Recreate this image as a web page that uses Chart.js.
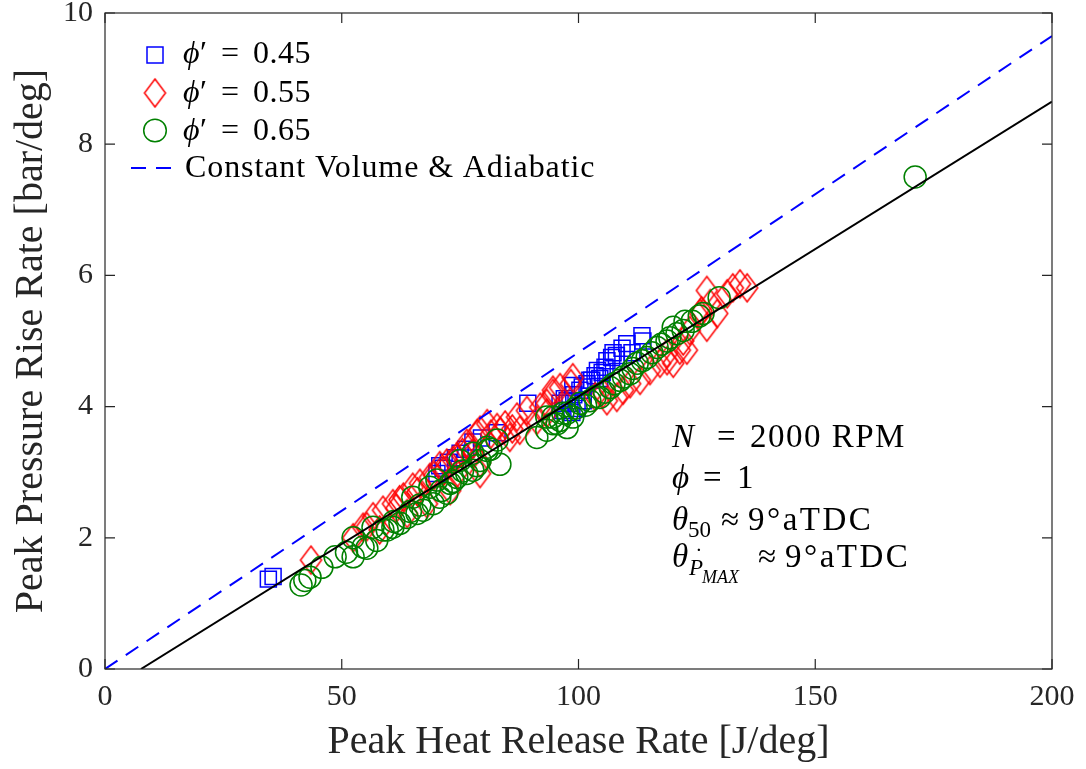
<!DOCTYPE html>
<html>
<head>
<meta charset="utf-8">
<script src="https://cdn.jsdelivr.net/npm/chart.js@4/dist/chart.umd.min.js"></script>
<style>
  html, body { margin: 0; padding: 0; background: #ffffff; }
  #wrap { width: 1086px; height: 769px; }
</style>
</head>
<body>
<div id="wrap"><canvas id="c" width="1086" height="769"></canvas></div>
<script>
// ---------------- data ----------------
const xTicks = [0, 50, 100, 150, 200];
const yTicks = [0, 2, 4, 6, 8, 10];

const phi045X = [34.5, 35.5, 70.1, 70.7, 71.4, 72.5, 74.0, 75.0, 76.2, 77.7, 79.5, 82.8, 89.3, 96.1, 96.7, 97.0, 97.6, 98.2, 98.6, 98.8, 99.0, 99.7, 100.3, 100.8, 101.0, 101.8, 102.4, 102.8, 103.5, 104.0, 104.5, 105.0, 105.6, 106.0, 107.0, 107.3, 108.0, 109.2, 110.2, 111.3, 113.4, 113.6];
const phi045Y = [1.37, 1.41, 2.98, 3.10, 3.06, 3.15, 3.22, 3.29, 3.35, 3.46, 3.52, 3.60, 4.05, 4.05, 3.94, 4.12, 4.09, 4.05, 3.91, 4.32, 4.18, 3.97, 4.25, 4.30, 4.09, 4.35, 4.40, 4.40, 4.47, 4.55, 4.43, 4.52, 4.60, 4.70, 4.75, 4.82, 4.78, 4.89, 4.96, 4.82, 5.08, 5.00];

const phi055X = [43.5, 52.4, 54.5, 55.3, 56.6, 58.0, 58.7, 60.8, 61.5, 62.2, 63.0, 63.8, 65.0, 66.0, 66.5, 68.0, 68.6, 69.5, 70.7, 71.5, 72.2, 72.9, 73.5, 74.3, 74.3, 75.5, 76.4, 77.0, 77.7, 78.6, 79.2, 79.2, 79.2, 80.7, 81.5, 82.8, 83.5, 84.5, 85.5, 86.0, 87.0, 87.6, 89.1, 91.2, 91.9, 93.3, 93.3, 94.6, 94.6, 96.1, 98.4, 98.8, 103.5, 105.2, 106.0, 108.1, 109.4, 110.9, 113.0, 115.1, 117.2, 118.7, 118.7, 120.0, 121.4, 122.1, 122.9, 123.5, 125.7, 126.0, 127.1, 127.1, 127.8, 129.3, 131.4, 132.6, 134.1, 135.6];
const phi055Y = [1.66, 2.00, 2.16, 2.17, 2.32, 2.12, 2.42, 2.52, 2.45, 2.58, 2.62, 2.37, 2.77, 2.70, 2.83, 2.52, 2.92, 2.95, 3.10, 3.02, 3.14, 2.72, 3.18, 3.23, 2.98, 3.30, 3.44, 3.38, 3.29, 3.59, 2.98, 3.14, 3.64, 3.74, 3.58, 3.68, 3.62, 3.72, 3.53, 3.66, 3.84, 3.64, 3.94, 3.79, 3.99, 3.90, 4.05, 4.20, 4.25, 4.29, 4.35, 4.44, 4.15, 4.20, 4.09, 4.14, 4.25, 4.35, 4.40, 4.55, 4.66, 4.70, 4.81, 4.66, 4.86, 5.00, 4.86, 5.16, 5.42, 5.46, 5.21, 5.77, 5.57, 5.42, 5.72, 5.81, 5.87, 5.81];

const phi065X = [41.4, 42.2, 43.3, 45.8, 48.6, 51.0, 52.4, 52.4, 54.5, 55.3, 56.6, 57.4, 58.7, 59.6, 60.8, 61.0, 62.3, 63.8, 64.5, 65.0, 65.9, 66.5, 67.2, 68.6, 69.3, 70.1, 70.7, 71.0, 72.2, 72.9, 73.5, 74.3, 75.0, 75.5, 76.4, 77.7, 77.7, 78.5, 79.2, 80.7, 80.7, 81.5, 82.8, 83.4, 91.2, 93.3, 93.3, 94.6, 94.6, 95.5, 96.1, 96.7, 97.6, 97.6, 98.8, 99.5, 100.3, 101.5, 102.4, 103.5, 104.5, 105.5, 106.7, 107.5, 108.8, 109.5, 110.9, 111.5, 112.4, 113.5, 114.5, 115.5, 116.6, 117.5, 118.7, 119.3, 120.0, 120.8, 122.1, 122.5, 124.0, 125.5, 126.3, 129.7, 171.1];
const phi065Y = [1.28, 1.35, 1.40, 1.55, 1.71, 1.78, 1.71, 2.00, 1.86, 1.84, 2.16, 1.96, 2.12, 2.12, 2.16, 2.25, 2.22, 2.31, 2.40, 2.62, 2.37, 2.50, 2.42, 2.77, 2.52, 2.88, 2.62, 2.72, 2.68, 2.83, 2.86, 2.92, 3.18, 3.02, 2.98, 3.03, 3.29, 3.10, 3.18, 3.33, 3.38, 3.35, 3.49, 3.12, 3.53, 3.64, 3.84, 3.74, 3.84, 3.74, 3.79, 3.90, 3.68, 3.90, 3.84, 3.98, 4.05, 4.02, 4.09, 4.15, 4.14, 4.22, 4.29, 4.35, 4.40, 4.45, 4.50, 4.58, 4.66, 4.70, 4.75, 4.82, 4.90, 4.95, 5.00, 5.05, 5.21, 5.11, 5.16, 5.30, 5.30, 5.38, 5.42, 5.66, 7.50];

// Constant volume & adiabatic reference line, and linear fit line
const idealX = [0, 200];
const idealY = [0, 9.65];
const fitX = [7.6, 200];
const fitY = [0, 8.65];

const legendLabels = ["0.45", "0.55", "0.65", "Constant Volume & Adiabatic"];

// ---------------- helpers ----------------
const FONT = "'Liberation Serif', 'Times New Roman', serif";
const AX = '#262626';
const pts = (xs, ys) => xs.map((x, i) => ({ x: x, y: ys[i] }));

function diamondCanvas(w, h, color, lw) {
  const c = document.createElement('canvas');
  c.width = w + 4; c.height = h + 4;
  const g = c.getContext('2d');
  g.strokeStyle = color; g.lineWidth = lw;
  g.beginPath();
  g.moveTo(c.width / 2, 2);
  g.lineTo(c.width - 2, c.height / 2);
  g.lineTo(c.width / 2, c.height - 2);
  g.lineTo(2, c.height / 2);
  g.closePath();
  g.stroke();
  return c;
}
const diamondImg = diamondCanvas(21, 28, '#ff0000', 1.5);

function spaced(ctx, px) { if ('letterSpacing' in ctx) ctx.letterSpacing = px + 'px'; }

// ---------------- plugin: frame, inward ticks, legend, annotation ----------------
const decor = {
  id: 'decor',
  afterDatasetsDraw(chart) {
    const ctx = chart.ctx, a = chart.chartArea;
    const xs = chart.scales.x, ys = chart.scales.y;
    ctx.save();
    ctx.strokeStyle = AX; ctx.lineWidth = 1.2;
    ctx.strokeRect(a.left, a.top, a.right - a.left, a.bottom - a.top);
    const tl = 10;
    ctx.beginPath();
    xTicks.forEach(v => {
      const px = xs.getPixelForValue(v);
      ctx.moveTo(px, a.bottom); ctx.lineTo(px, a.bottom - tl);
      ctx.moveTo(px, a.top); ctx.lineTo(px, a.top + tl);
    });
    yTicks.forEach(v => {
      const py = ys.getPixelForValue(v);
      ctx.moveTo(a.left, py); ctx.lineTo(a.left + tl, py);
      ctx.moveTo(a.right, py); ctx.lineTo(a.right - tl, py);
    });
    ctx.stroke();
    ctx.restore();
  },
  afterDraw(chart) {
    const ctx = chart.ctx;
    ctx.save();
    ctx.fillStyle = '#000';
    ctx.textBaseline = 'alphabetic';
    ctx.textAlign = 'left';

    // ---- legend ----
    const mx = 155;
    const rows = [63, 101.5, 139.5, 177];
    ctx.strokeStyle = '#0000ff'; ctx.lineWidth = 1.5;
    ctx.strokeRect(mx - 8, 55 - 8, 16, 16);
    ctx.drawImage(diamondImg, mx - diamondImg.width / 2, 93 - diamondImg.height / 2);
    ctx.strokeStyle = '#008000';
    ctx.beginPath(); ctx.arc(mx, 130.5, 11.3, 0, Math.PI * 2); ctx.stroke();
    ctx.strokeStyle = '#0000ff'; ctx.lineWidth = 2; ctx.setLineDash([15, 10]);
    ctx.beginPath(); ctx.moveTo(131, 168); ctx.lineTo(173, 168); ctx.stroke();
    ctx.setLineDash([]);

    for (let i = 0; i < 3; i++) {
      const b = rows[i];
      ctx.font = 'italic 32px ' + FONT;
      ctx.fillText('\u03D5', 183, b);
      ctx.font = '32px ' + FONT;
      ctx.fillText('\u2032', 200, b);
      ctx.fillText('=', 221, b);
      spaced(ctx, 0.5);
      ctx.fillText(legendLabels[i], 253, b);
      spaced(ctx, 0);
    }
    ctx.font = '32px ' + FONT;
    spaced(ctx, 0.9);
    ctx.fillText(legendLabels[3], 185, rows[3]);
    spaced(ctx, 0);

    // ---- annotation ----
    const L = 672;
    const big = '33px ' + FONT, bigI = 'italic 33px ' + FONT;
    // line 1
    ctx.font = bigI; ctx.fillText('N', L, 447);
    ctx.font = big; ctx.fillText('=', 717, 447);
    spaced(ctx, 1.5); ctx.fillText('2000 RPM', 750, 447); spaced(ctx, 0);
    // line 2
    ctx.font = bigI; ctx.fillText('\u03D5', L, 488);
    ctx.font = big; ctx.fillText('=', 703, 488); ctx.fillText('1', 737, 488);
    // line 3
    ctx.font = bigI; ctx.fillText('\u03B8', L, 530);
    ctx.font = '23px ' + FONT; ctx.fillText('50', 688, 537);
    ctx.font = big; ctx.fillText('\u2248', 721, 530);
    spaced(ctx, 2.5); ctx.fillText('9\u00B0aTDC', 748, 530); spaced(ctx, 0);
    // line 4
    ctx.font = bigI; ctx.fillText('\u03B8', L, 567);
    ctx.font = 'italic 23px ' + FONT; ctx.fillText('P', 689, 575);
    ctx.font = '23px ' + FONT; ctx.fillText('\u02D9', 695, 564);
    ctx.font = 'italic 18px ' + FONT; ctx.fillText('MAX', 702, 583);
    ctx.font = big; ctx.fillText('\u2248', 758, 567);
    spaced(ctx, 2.5); ctx.fillText('9\u00B0aTDC', 785, 567); spaced(ctx, 0);

    ctx.restore();
  }
};

// ---------------- chart ----------------
Chart.defaults.font.family = FONT;
Chart.defaults.color = AX;

new Chart(document.getElementById('c'), {
  type: 'scatter',
  data: {
    datasets: [
      { label: 'phi045', data: pts(phi045X, phi045Y), order: 4,
        pointStyle: 'rect', radius: 11.3, borderColor: '#0000ff', backgroundColor: 'rgba(0,0,0,0)', borderWidth: 1.5 },
      { label: 'phi055', data: pts(phi055X, phi055Y), order: 3,
        pointStyle: diamondImg, radius: 12 },
      { label: 'phi065', data: pts(phi065X, phi065Y), order: 2,
        pointStyle: 'circle', radius: 11, borderColor: '#008000', backgroundColor: 'rgba(0,0,0,0)', borderWidth: 1.5 },
      { label: 'ideal', type: 'line', data: pts(idealX, idealY), order: 1,
        borderColor: '#0000ff', borderWidth: 2, borderDash: [15, 10], pointRadius: 0, fill: false, showLine: true },
      { label: 'fit', type: 'line', data: pts(fitX, fitY), order: 0,
        borderColor: '#000000', borderWidth: 2, pointRadius: 0, fill: false, showLine: true }
    ]
  },
  options: {
    responsive: false,
    animation: false,
    events: [],
    devicePixelRatio: 1,
    layout: { padding: { top: 12, right: 34, left: 0, bottom: 0 } },
    plugins: { legend: { display: false }, tooltip: { enabled: false } },
    scales: {
      x: {
        type: 'linear', min: 0, max: 200,
        afterBuildTicks: s => { s.ticks = xTicks.map(v => ({ value: v })); },
        ticks: { font: { size: 30 }, color: AX, padding: 10, maxRotation: 0 },
        grid: { display: false, drawTicks: false },
        border: { display: false },
        title: { display: true, text: 'Peak Heat Release Rate [J/deg]', font: { size: 40 }, color: AX, padding: { top: 0, bottom: 3 } },
        afterFit: s => { s.height = 100; s.paddingLeft = 0; s.paddingRight = 0; }
      },
      y: {
        type: 'linear', min: 0, max: 10,
        afterBuildTicks: s => { s.ticks = yTicks.map(v => ({ value: v })); },
        ticks: { font: { size: 30 }, color: AX, padding: 12 },
        grid: { display: false, drawTicks: false },
        border: { display: false },
        title: { display: true, text: 'Peak Pressure Rise Rate [bar/deg]', font: { size: 40 }, color: AX, padding: { top: 7, bottom: 0 } },
        afterFit: s => { s.width = 105; s.paddingTop = 0; s.paddingBottom = 0; }
      }
    }
  },
  plugins: [decor]
});
</script>
</body>
</html>
